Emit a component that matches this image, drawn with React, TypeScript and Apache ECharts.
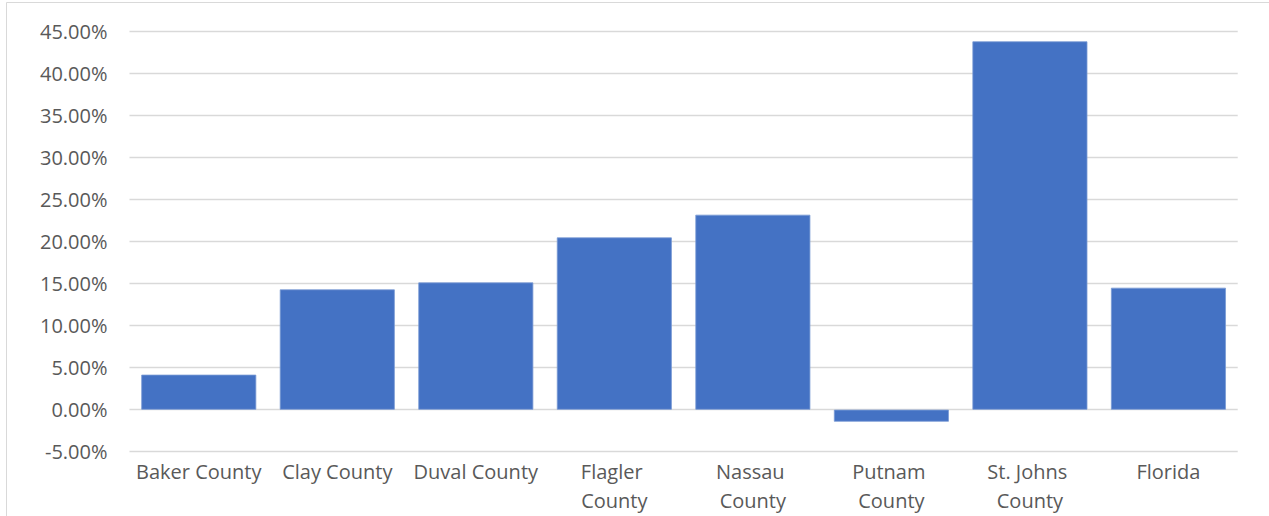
import React, { useEffect, useRef } from "react";
import * as echarts from "echarts";

// Population change by area, in percent
const categories = [
  "Baker County",
  "Clay County",
  "Duval County",
  "Flagler County",
  "Nassau County",
  "Putnam County",
  "St. Johns County",
  "Florida",
];
const changePct = [4.17, 14.32, 15.15, 20.51, 23.21, -1.43, 43.85, 14.52];

const axisMin = -5;
const axisMax = 45;
const axisStep = 5;

export default function App() {
  const ref = useRef<HTMLDivElement>(null);

  useEffect(() => {
    if (!ref.current) return;
    const chart = echarts.init(ref.current, undefined, { renderer: "svg" });
    chart.setOption({
      animation: false,
      backgroundColor: "#ffffff",
      textStyle: { fontFamily: "Open Sans" },
      graphic: [
        {
          type: "rect",
          shape: { x: 6.5, y: 2.5, width: 1300, height: 600 },
          style: { fill: "none", stroke: "#d9d9d9", lineWidth: 1 },
          silent: true,
        },
      ],
      grid: {
        left: 129.5,
        right: 31.3,
        top: 31.7,
        bottom: 64.3,
        containLabel: false,
        outerBoundsMode: "none",
      },
      xAxis: {
        type: "category",
        data: categories,
        axisLine: { show: false },
        axisTick: { show: false },
        axisLabel: {
          color: "#595959",
          fontSize: 20,
          fontFamily: "Open Sans",
          margin: 5,
          width: 132,
          overflow: "break",
          lineHeight: 29,
          interval: 0,
        },
      },
      yAxis: {
        type: "value",
        min: axisMin,
        max: axisMax,
        interval: axisStep,
        axisLine: { show: false },
        axisTick: { show: false },
        splitLine: { lineStyle: { color: "#d9d9d9", width: 1.3 } },
        axisLabel: {
          color: "#595959",
          fontSize: 20,
          fontFamily: "Open Sans",
          margin: 22,
          formatter: (v: number) => v.toFixed(2) + "%",
        },
      },
      series: [
        {
          type: "bar",
          data: changePct,
          barCategoryGap: "17%",
          itemStyle: { color: "#4472c4", borderColor: "#7a9ad4", borderWidth: 0.8 },
        },
      ],
    });
    return () => chart.dispose();
  }, []);

  return (
    <div
      ref={ref}
      style={{ position: "fixed", left: 0, top: 0, width: 1269, height: 516 }}
    />
  );
}
